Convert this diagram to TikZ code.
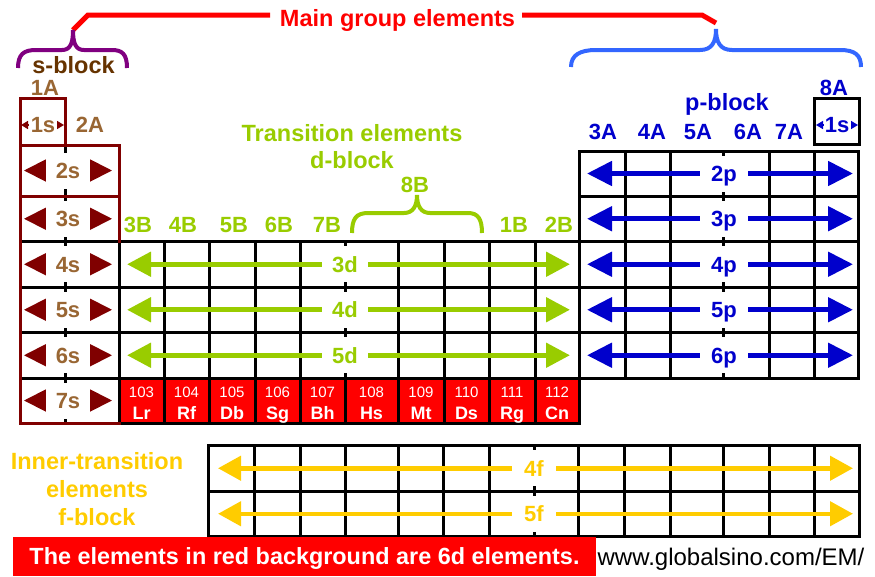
\documentclass[tikz,border=0pt]{standalone}
\usepackage{fontspec}
\setmainfont{Liberation Sans}
\usetikzlibrary{arrows.meta}
\definecolor{mainred}{HTML}{FF0000}
\definecolor{spurple}{HTML}{800080}
\definecolor{sdark}{HTML}{800000}
\definecolor{sbrown}{HTML}{996633}
\definecolor{stitle}{HTML}{663300}
\definecolor{dgreen}{HTML}{99CC00}
\definecolor{pblue}{HTML}{0000CC}
\definecolor{pbrace}{HTML}{3366FF}
\definecolor{fyellow}{HTML}{FFCC00}

\begin{document}
\begin{tikzpicture}[x=1pt, y=-1pt,
  big/.style={font=\fontsize{23.5}{26}\selectfont\bfseries, inner sep=0pt, text height=16.8pt, text depth=0pt},
  lab/.style={font=\fontsize{22}{24}\selectfont\bfseries, inner sep=0pt, text height=15.8pt, text depth=0pt},
  orb/.style={lab, fill=white, minimum height=36pt},
  gridline/.style={line width=3pt, line cap=rect},
  brace/.style={line width=4pt},
  sarr/.style={sdark, line width=2pt, {Triangle[length=23pt,width=23pt]}-{Triangle[length=23pt,width=23pt]}},
  darr/.style={dgreen, line width=5pt, {Triangle[length=24pt,width=24pt]}-{Triangle[length=24pt,width=24pt]}},
  parr/.style={pblue, line width=5pt, {Triangle[length=25pt,width=24pt]}-{Triangle[length=25pt,width=24pt]}},
  farr/.style={fyellow, line width=4.5pt, {Triangle[length=23pt,width=24pt]}-{Triangle[length=23pt,width=24pt]}},
  tinyarr/.style={line width=1.5pt, -{Triangle[length=7pt,width=8pt]}},
  num/.style={text=white, font=\fontsize{15}{17}\selectfont, inner sep=0pt},
  sym/.style={text=white, font=\fontsize{18}{20}\selectfont\bfseries, inner sep=0pt, text height=13pt, text depth=0pt}]
  \useasboundingbox (0,0) rectangle (875,576);

  % red 6d row
  \fill[mainred] (119,378) rectangle (579,423);
  % d-block grid, s-block inner lines
  \foreach \y in {241.5,287,332.5,378} \draw[gridline] (20,\y) -- (579,\y);
  \draw[gridline] (119,423) -- (579,423);
  \foreach \x in {119,164,209,255,300,345,398,444,489,535} \draw[gridline] (\x,241.5) -- (\x,423);
  \draw[gridline] (65,145) -- (65,423);
  % p-block grid
  \foreach \y in {151,196,241.5,287,332.5,378} \draw[gridline] (579,\y) -- (858,\y);
  \draw[gridline] (579,151) -- (579,423);
  \foreach \x in {625,670,723,769,814,858} \draw[gridline] (\x,151) -- (\x,378);
  \draw[gridline] (814,98) rectangle (859,144);
  % f-block grid
  \foreach \y in {445.5,491,536.5} \draw[gridline] (208,\y) -- (859,\y);
  \foreach \x in {208,254,300,345,398,443,489,534,578,624,670,723,769,814,859} \draw[gridline] (\x,445.5) -- (\x,536.5);
  % s-block frame
  \draw[gridline, sdark] (20,98) rectangle (65,145);
  \draw[gridline, sdark] (20,145) -- (119,145) -- (119,241.5);
  \draw[gridline, sdark] (20,196) -- (119,196);
  \draw[gridline, sdark] (20,98) -- (20,423) -- (119,423);

  % orbitals
  \foreach \n/\y in {2/170.5,3/218.75,4/264.25,5/309.75,6/355.25,7/400.5}{
    \coordinate (s\n w) at (24,\y);
    \coordinate (s\n e) at (112,\y);
    \draw[sarr] (s\n w) -- (s\n e);
    \node[orb, text=sbrown, minimum width=44pt] (s\n) at (68,\y) {\n s};
  }
  \foreach \n/\y in {3/264.25,4/309.75,5/355.25}{
    \coordinate (d\n w) at (127,\y);
    \coordinate (d\n e) at (570,\y);
    \draw[darr] (d\n w) -- (d\n e);
    \node[orb, text=dgreen, minimum width=46pt] (d\n) at (345,\y) {\n d};
  }
  \foreach \n/\y in {2/173.5,3/218.75,4/264.25,5/309.75,6/355.25}{
    \coordinate (p\n w) at (587,\y);
    \coordinate (p\n e) at (853,\y);
    \draw[parr] (p\n w) -- (p\n e);
    \node[orb, text=pblue, minimum width=48pt] (p\n) at (724,\y) {\n p};
  }
  \foreach \n/\y in {4/468.25,5/513.75}{
    \coordinate (f\n w) at (218,\y);
    \coordinate (f\n e) at (853,\y);
    \draw[farr] (f\n w) -- (f\n e);
    \node[orb, text=fyellow, minimum width=44pt] (f\n) at (534,\y) {\n f};
  }

  % 1s cells
  \node[lab, text=sbrown] (s1) at (43,125) {1s};
  \coordinate (s1a) at (28,125); \coordinate (s1b) at (21,125);
  \coordinate (s1c) at (57,125); \coordinate (s1d) at (64,125);
  \draw[tinyarr, sdark] (s1a) -- (s1b);
  \draw[tinyarr, sdark] (s1c) -- (s1d);
  \node[lab, text=pblue] (h1) at (837,125) {1s};
  \coordinate (h1a) at (823,125); \coordinate (h1b) at (816,125);
  \coordinate (h1c) at (851,125); \coordinate (h1d) at (858,125);
  \draw[tinyarr, pblue] (h1a) -- (h1b);
  \draw[tinyarr, pblue] (h1c) -- (h1d);

  % 6d elements
  \foreach \x/\z/\e in {141.5/103/Lr,186.5/104/Rf,232/105/Db,277.5/106/Sg,322.5/107/Bh,371.5/108/Hs,421/109/Mt,466.5/110/Ds,512/111/Rg,557/112/Cn}{
    \node[num] (z\z) at (\x,392) {\z};
    \node[sym] (e\z) at (\x,413) {\e};
  }

  % group labels
  \node[lab, text=sbrown] (g1A) at (45,87.5) {1A};
  \node[lab, text=sbrown] (g2A) at (90,125) {2A};
  \node[lab, text=pblue] (g8A) at (834,87.5) {8A};
  \foreach \x/\g in {603/3A,652/4A,698/5A,748/6A,789/7A}
    \node[lab, text=pblue] (g\g) at (\x,132) {\g};
  \foreach \x/\g in {138/3B,183/4B,234/5B,279/6B,327/7B,514/1B,559/2B}
    \node[lab, text=dgreen] (g\g) at (\x,225) {\g};
  \node[lab, text=dgreen] (g8B) at (415,185) {8B};

  % block titles
  \node[big, text=mainred] (main) at (397.5,18.5) {Main group elements};
  \node[big, text=stitle] (sblock) at (73.5,65) {s-block};
  \node[big, text=pblue] (pblock) at (727,102.5) {p-block};
  \node[big, text=dgreen] (trans) at (352,133) {Transition elements};
  \node[big, text=dgreen] (dblock) at (352,160) {d-block};
  \node[big, text=fyellow] (inner) at (97,461) {Inner-transition};
  \node[big, text=fyellow] (elem) at (97,489.5) {elements};
  \node[big, text=fyellow] (fblock) at (97,517) {f-block};

  % braces
  \coordinate (stip) at (73,30);
  \coordinate (ptip) at (716,29);
  \coordinate (mLk) at (88,15); \coordinate (mL) at (270,15);
  \coordinate (mR) at (522,15); \coordinate (mRk) at (702,15); \coordinate (mRe) at (716,23);
  \draw[mainred, line width=5pt] (stip) -- (mLk) -- (mL);
  \draw[mainred, line width=5pt] (mR) -- (mRk) -- (mRe);
  \draw[brace, spurple] (18,68) .. controls (18,54) and (24,50) .. (36,50) -- (62,50)
    .. controls (70,50) and (73,44) .. (stip) .. controls (73,44) and (76,50) .. (84,50)
    -- (112,50) .. controls (122,50) and (127,54) .. (127,68);
  \draw[brace, pbrace] (571,67) .. controls (571,55) and (580,50) .. (596,50) -- (700,50)
    .. controls (712,50) and (716,42) .. (ptip) .. controls (716,42) and (720,50) .. (732,50)
    -- (840,50) .. controls (855,50) and (861,55) .. (861,67);
  \draw[brace, dgreen] (352,233) .. controls (352,219) and (356,213) .. (368,213) -- (404,213)
    .. controls (413,213) and (417,206) .. (417,195) .. controls (417,206) and (421,213) .. (430,213)
    -- (468,213) .. controls (478,213) and (482,219) .. (482,233);

  % footer
  \node[fill=mainred, text=white, font=\fontsize{23.4}{26}\selectfont\bfseries, inner sep=0pt,
    minimum width=583pt, minimum height=39pt, text height=16.8pt, text depth=0pt]
    (note) at (304.5,556.5) {The elements in red background are 6d elements.};
  \node[font=\fontsize{24}{26}\selectfont, inner sep=0pt, text height=17.2pt, text depth=0pt]
    (url) at (731,556.5) {www.globalsino.com/EM/};
\end{tikzpicture}
\end{document}
